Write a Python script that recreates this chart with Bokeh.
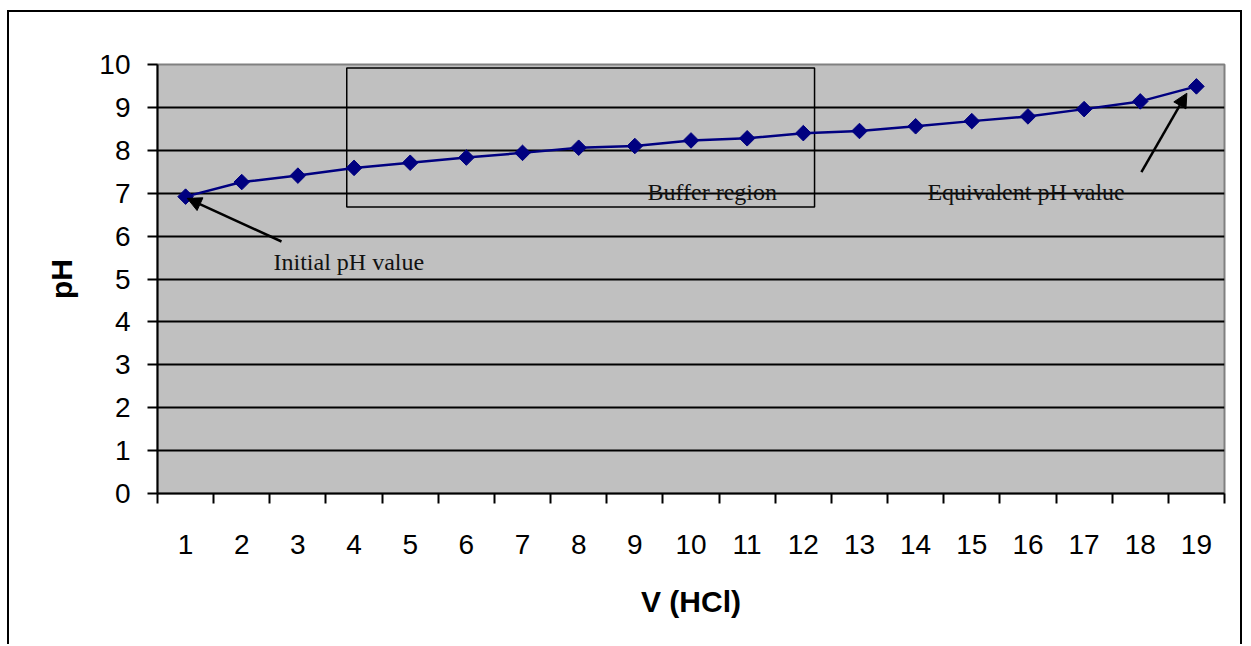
from bokeh.plotting import figure
from bokeh.models import Range1d, FixedTicker, Arrow, NormalHead
from bokeh.core.properties import value
from bokeh.embed import file_html
from bokeh.resources import INLINE
import math

# ---- data ----
v_hcl = list(range(1, 20))
ph = [6.92, 7.26, 7.41, 7.59, 7.71, 7.83, 7.94, 8.06, 8.10, 8.23,
      8.28, 8.40, 8.45, 8.56, 8.68, 8.79, 8.96, 9.14, 9.49]
y_ticks = list(range(0, 11))
x_minor_ticks = [i + 0.5 for i in range(0, 20)]

note_texts = ["Initial pH value", "Buffer region", "Equivalent pH value"]
note_x = [2.566, 9.225, 14.21]
note_y = [5.39, 7.02, 7.02]

buffer_left, buffer_right = [3.87], [12.2]
buffer_bottom, buffer_top = [6.68], [9.92]

arrow_start_x = [2.708, 18.02]
arrow_start_y = [5.874, 7.49]
arrow_end_x = [1.03, 18.83]
arrow_end_y = [6.88, 9.33]

# ---- figure ----
p = figure(width=1235, height=634, output_backend="svg", toolbar_location=None,
           x_range=Range1d(0.5, 19.5), y_range=Range1d(0, 10),
           min_border_left=148, min_border_right=20, min_border_top=52,
           min_border_bottom=153,
           background_fill_color="#C0C0C0", border_fill_color="white")
p.styles = {"border-top": "2px solid black", "border-left": "2px solid black",
            "border-right": "2px solid black", "margin-left": "7px",
            "margin-top": "10px"}

p.outline_line_color = "#808080"
p.outline_line_width = 2

p.xgrid.grid_line_color = None
p.ygrid.grid_line_color = "black"
p.ygrid.grid_line_width = 1.8
p.ygrid.ticker = FixedTicker(ticks=y_ticks)

# y axis
p.yaxis.ticker = FixedTicker(ticks=y_ticks)
p.yaxis.axis_line_color = "black"
p.yaxis.axis_line_width = 2
p.yaxis.major_tick_line_color = "black"
p.yaxis.major_tick_line_width = 2
p.yaxis.major_tick_out = 10
p.yaxis.major_tick_in = 0
p.yaxis.minor_tick_line_color = None
p.yaxis.major_label_text_font = "Liberation Sans"
p.yaxis.major_label_text_font_size = "28px"
p.yaxis.major_label_text_color = "black"
p.yaxis.major_label_standoff = 17
p.yaxis.axis_label = "pH"
p.yaxis.axis_label_text_font = "Liberation Sans"
p.yaxis.axis_label_text_font_style = "bold"
p.yaxis.axis_label_text_font_size = "30px"
p.yaxis.axis_label_text_color = "black"
p.yaxis.axis_label_standoff = 18

# x axis
p.xaxis.ticker = FixedTicker(ticks=v_hcl, minor_ticks=x_minor_ticks)
p.xaxis.axis_line_color = "black"
p.xaxis.axis_line_width = 2
p.xaxis.major_tick_line_color = None
p.xaxis.major_tick_out = 0
p.xaxis.major_tick_in = 0
p.xaxis.minor_tick_line_color = "black"
p.xaxis.minor_tick_line_width = 2
p.xaxis.minor_tick_out = 10
p.xaxis.minor_tick_in = 0
p.xaxis.major_label_text_font = "Liberation Sans"
p.xaxis.major_label_text_font_size = "28px"
p.xaxis.major_label_text_color = "black"
p.xaxis.major_label_standoff = 31
p.xaxis.axis_label = "V (HCl)"
p.xaxis.axis_label_text_font = "Liberation Sans"
p.xaxis.axis_label_text_font_style = "bold"
p.xaxis.axis_label_text_font_size = "30px"
p.xaxis.axis_label_text_color = "black"
p.xaxis.axis_label_standoff = 28

# buffer region box
p.quad(left=buffer_left, right=buffer_right, bottom=buffer_bottom, top=buffer_top,
       fill_color=None, line_color="black", line_width=1.5)

# data
p.line(v_hcl, ph, line_color="#000080", line_width=2.5)
p.scatter(v_hcl, ph, marker="square", angle=math.pi / 4, size=11,
          fill_color="#000080", line_color="#000080")

# annotations
p.text(x=note_x, y=note_y, text=note_texts, text_font=value("Liberation Serif"),
       text_font_size="24px", text_color="#111111", text_baseline="alphabetic",
       text_align="left")

for sx, sy, ex, ey in zip(arrow_start_x, arrow_start_y, arrow_end_x, arrow_end_y):
    p.add_layout(Arrow(x_start=sx, y_start=sy, x_end=ex, y_end=ey,
                       line_color="black", line_width=2.5,
                       end=NormalHead(size=14, fill_color="black",
                                      line_color="black")))

open("out.html", "w").write(file_html(p, INLINE))
